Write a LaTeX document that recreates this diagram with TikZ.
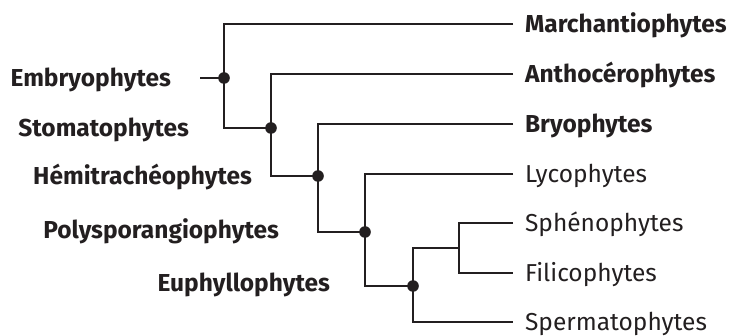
\documentclass[tikz,border=0pt]{standalone}
\usepackage{fontspec}
\setmainfont{Fira Sans}
\definecolor{ink}{HTML}{231F20}

\begin{document}
\begin{tikzpicture}[x=1pt, y=-1pt, line width=2.2pt, ink,
  leaf/.style={anchor=west, inner xsep=11pt, inner ysep=0pt, text height=16.8pt, text depth=0pt, font=\fontsize{24.5}{28}\selectfont},
  leafb/.style={leaf, font=\fontsize{24.5}{28}\selectfont\bfseries},
  clade/.style={anchor=east, inner sep=0pt, text height=16.8pt, text depth=0pt, font=\fontsize{24.5}{28}\selectfont\bfseries}]
  \useasboundingbox (0,0) rectangle (739,336);
  % Junctions of the tree
  \coordinate (root) at (200,78);
  \coordinate (j1) at (224,78);
  \coordinate (j2) at (271,128);
  \coordinate (j3) at (318,176);
  \coordinate (j4) at (365,232);
  \coordinate (j5) at (413,286);
  \coordinate (j6) at (459,248);
  % Leaves
  \node[leafb] (march) at (513,24) {Marchantiophytes};
  \node[leafb] (antho) at (513,74) {Anthocérophytes};
  \node[leafb] (bryo) at (513,124) {Bryophytes};
  \node[leaf] (lyco) at (513,174) {Lycophytes};
  \node[leaf] (spheno) at (513,223) {Sphénophytes};
  \node[leaf] (fili) at (513,273) {Filicophytes};
  \node[leaf] (sperma) at (513,322) {Spermatophytes};
  % Clade names
  \node[clade] (embryo) at (172,78) {Embryophytes};
  \node[clade] (stomato) at (190,128) {Stomatophytes};
  \node[clade] (hemi) at (253,176) {Hémitrachéophytes};
  \node[clade] (poly) at (280,230) {Polysporangiophytes};
  \node[clade] (euphyl) at (331,283) {Euphyllophytes};
  % Branches
  \draw (root) -- (j1);
  \draw (march.west) -| (j1) |- (j2);
  \draw (antho.west) -| (j2) |- (j3);
  \draw (bryo.west) -| (j3) |- (j4);
  \draw (lyco.west) -| (j4) |- (j5);
  \draw (spheno.west) -| (j6) |- (fili.west);
  \draw (j6) -| (j5) |- (sperma.west);
  % Dots on the nodes
  \foreach \j in {j1,j2,j3,j4,j5}
    \fill (\j) circle (5.8pt);
\end{tikzpicture}
\end{document}
